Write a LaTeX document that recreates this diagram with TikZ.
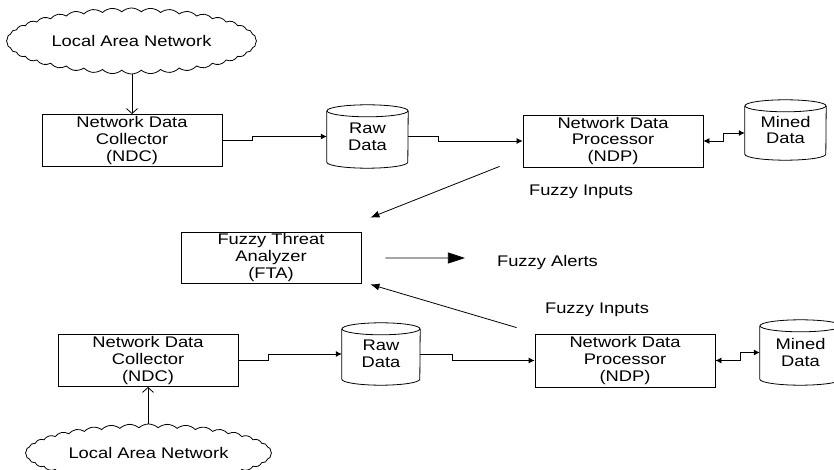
\documentclass[tikz,border=0pt]{standalone}
\usepackage{fontspec}
\setmainfont{Liberation Sans}[FakeStretch=1.19]
\usetikzlibrary{shapes.symbols,arrows.meta,calc}
\newcommand\cylborder[2]{%
  \draw[ln] ($(#1.north west)+(0,6)$) -- ($(#1.south west)+(0,-6)$)
    arc[start angle=180,end angle=0,x radius=#2/2,y radius=6]
    -- ($(#1.north east)+(0,6)$);
  \draw[ln] ($(#1.north)+(0,6)$) ellipse[x radius=#2/2,y radius=6];
}
\begin{document}
\begin{tikzpicture}[x=1bp,y=-1bp,
  ln/.style={line width=0.8bp,black},
  txt/.style={font=\fontsize{15.4bp}{16.7bp}\selectfont,align=center,inner sep=0pt},
  procbox/.style={txt,ln,draw,rectangle,minimum width=180bp,minimum height=52bp},
  cylbox/.style={txt,rectangle},
  lan/.style={txt,ln,draw,cloud,cloud puffs=40,cloud puff arc=85,cloud ignores aspect,minimum width=250bp,minimum height=66bp,fill=white},
  conn/.style={ln,-{Latex[length=6bp,width=6bp]}},
  dconn/.style={ln,{Latex[length=6bp,width=6bp]}-{Latex[length=6bp,width=6bp]}},
  feed/.style={ln,-{Straight Barb[length=5bp,width=11bp]}},
  diag/.style={ln,-{Latex[length=9bp,width=7bp]}},
  bigarrow/.style={ln,-{Triangle[length=17bp,width=11bp]}}
]
\useasboundingbox (0,0) rectangle (834,470);

% top row
\node[lan] (lan1) at (131.5,41) {Local Area Network};
\node[procbox] (ndc1) at (132,140.5) {Network Data\\Collector\\(NDC)};
\node[cylbox,minimum width=81bp,minimum height=63bp] (raw1) at (367.5,136.5) {Raw\\Data};
\cylborder{raw1}{81}
\node[procbox] (ndp1) at (613,141) {Network Data\\Processor\\(NDP)};
\node[cylbox,minimum width=81bp,minimum height=60bp] (mined1) at (785.5,130) {Mined\\Data};
\cylborder{mined1}{81}

\draw[feed] (lan1.south -| ndc1.north) -- (ndc1.north);
\draw[conn] (ndc1.east) -- ++(30,0) |- (raw1.west);
\draw[conn] (raw1.east) -- ++(30,0) |- (ndp1.west);
\draw[dconn] (ndp1.east) -- ++(20,0) |- ($(mined1.west)+(0,3)$);

% middle
\node[txt] (in1) at (581,192) {Fuzzy Inputs};
\node[procbox,minimum height=51bp] (fta) at (271,257.5) {Fuzzy Threat\\Analyzer\\(FTA)};
\node[txt] (alerts) at (547.5,263) {Fuzzy Alerts};
\node[txt] (in2) at (597,310) {Fuzzy Inputs};

\draw[diag] ($(ndp1.south west)+(-23,-1)$) -- ($(fta.north east)+(9,-14)$);
\draw[bigarrow] ($(fta.east)+(24,0.5)$) -- ($(alerts.west)+(-32,-5)$);

% bottom row
\node[procbox] (ndc2) at (148,360.5) {Network Data\\Collector\\(NDC)};
\node[cylbox,minimum width=78bp,minimum height=62bp] (raw2) at (381,354) {Raw\\Data};
\cylborder{raw2}{78}
\node[procbox,minimum height=53bp] (ndp2) at (625,360.5) {Network Data\\Processor\\(NDP)};
\node[cylbox,minimum width=81bp,minimum height=65bp] (mined2) at (800.5,352.5) {Mined\\Data};
\cylborder{mined2}{81}
\node[lan,minimum width=246bp,minimum height=58bp] (lan2) at (148.5,453) {Local Area Network};

\draw[feed] (lan2.north -| ndc2.south) -- (ndc2.south);
\draw[conn] (ndc2.east) -- ++(30,0) |- (raw2.west);
\draw[conn] (raw2.east) -- ++(32,0) |- (ndp2.west);
\draw[dconn] (ndp2.east) -- ++(25,0) |- (mined2.west);
\draw[diag] ($(ndp2.north west)+(-18,-6)$) -- ($(fta.south east)+(9,1)$);
\end{tikzpicture}
\end{document}
